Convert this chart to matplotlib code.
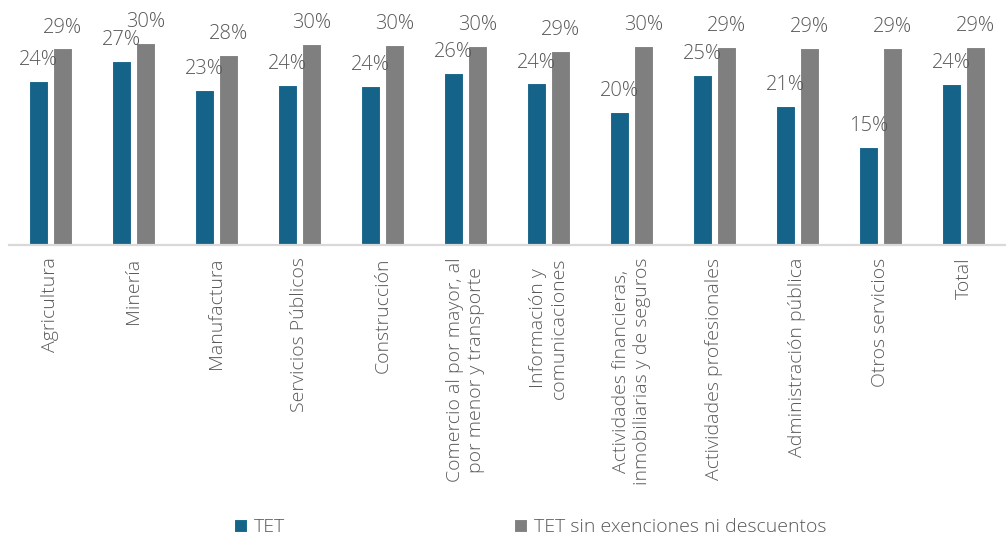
import matplotlib
matplotlib.use("Agg")
import matplotlib.pyplot as plt
import numpy as np

plt.rcParams['font.family'] = ['Open Sans', 'DejaVu Sans']
plt.rcParams['font.weight'] = 'light'

# sectors and effective tax rates (fractions)
sectors = [
    "Agricultura",
    "Minería",
    "Manufactura",
    "Servicios Públicos",
    "Construcción",
    "Comercio al por mayor, al\npor menor y transporte",
    "Información y\ncomunicaciones",
    "Actividades financieras,\ninmobiliarias y de seguros",
    "Actividades profesionales",
    "Administración pública",
    "Otros servicios",
    "Total",
]
tet = [0.244, 0.274, 0.230, 0.238, 0.236, 0.256, 0.240, 0.198, 0.252, 0.206, 0.146, 0.239]
tet_sin = [0.292, 0.300, 0.282, 0.298, 0.297, 0.296, 0.289, 0.296, 0.294, 0.293, 0.293, 0.294]

series_names = ["TET", "TET sin exenciones ni descuentos"]
blue = "#156388"
gray = "#7f7f7f"
text_col = "#595959"

W, H = 1006, 537
fig = plt.figure(figsize=(W / 100, H / 100), dpi=100)
# plot area: baseline at y=245px, categories span x=9..1005
ax = fig.add_axes([9 / W, 1 - 245 / H, 996 / W, 240 / H])

x = np.arange(len(sectors))
bw = 0.228
off = 0.144
b1 = ax.bar(x - off, tet, bw, color=blue, edgecolor="white", linewidth=0.8, label=series_names[0])
b2 = ax.bar(x + off, tet_sin, bw, color=gray, edgecolor="white", linewidth=0.8, label=series_names[1])

for bars, vals in ((b1, tet), (b2, tet_sin)):
    for rect, v in zip(bars, vals):
        ax.annotate(f"{v:.0%}", (rect.get_x() + rect.get_width() / 2, v),
                    xytext=(0, 11.5), textcoords="offset points",
                    ha="center", va="baseline", fontsize=14.5, color=text_col)

ax.set_xlim(-0.5, len(sectors) - 0.5)
ax.set_ylim(0, 240 / 6.73 / 100)

for s in ("top", "right", "left"):
    ax.spines[s].set_visible(False)
ax.spines["bottom"].set_color("#d9d9d9")
ax.spines["bottom"].set_linewidth(1.6)
ax.set_yticks([])
ax.set_xticks(x)
ax.set_xticklabels(sectors, rotation=90, fontsize=14, color=text_col,
                   ha="center", va="top", multialignment="center")
ax.tick_params(axis="x", length=0, pad=9)

fig.legend(handles=[b1, b2], labels=series_names, loc="center",
           bbox_to_anchor=(530 / W, 1 - 527 / H), ncol=2, frameon=False,
           fontsize=14, labelcolor=text_col, handlelength=0.65, handleheight=0.65,
           handletextpad=0.35, columnspacing=11.8, borderpad=0)

fig.savefig("out.png", dpi=100)
